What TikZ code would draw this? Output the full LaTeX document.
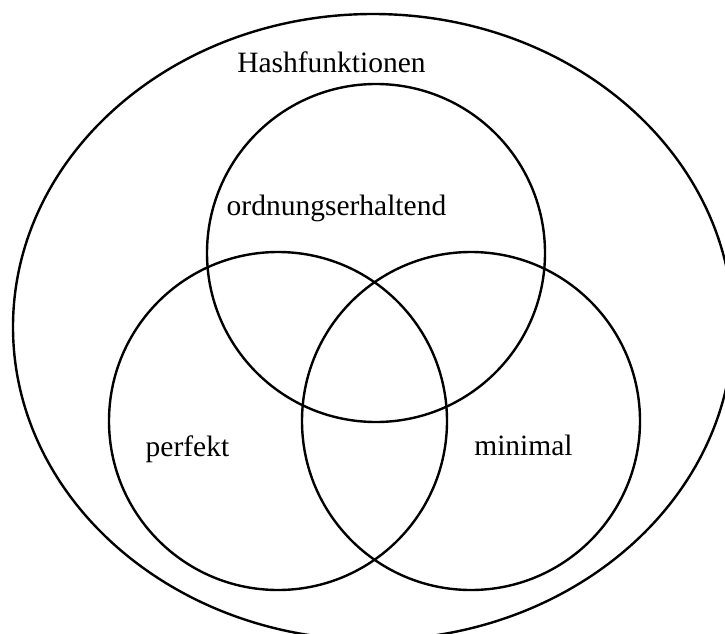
\documentclass[tikz,border=0pt]{standalone}
\usepackage{fontspec}
\setmainfont{Liberation Serif}
\usepackage{tikz}

\begin{document}
\begin{tikzpicture}[x=1pt,y=-1pt,line width=2.4pt,
  setlab/.style={anchor=base,inner sep=0pt,font=\fontsize{29.5}{35}\selectfont}]
  \useasboundingbox (0,0) rectangle (725,634);
  % Obermenge
  \draw (373,327) ellipse [x radius=360pt,y radius=313pt];
  \foreach \cx/\cy in {376/253,278/421,471/421}
    \draw (\cx,\cy) circle [radius=169pt];
  \node[setlab] (hash) at (331.5,72) {Hashfunktionen};
  \node[setlab] (ordn) at (336.5,215) {ordnungserhaltend};
  \node[setlab] (perf) at (187.5,456) {perfekt};
  \node[setlab] (mini) at (523.5,455) {minimal};
\end{tikzpicture}
\end{document}
